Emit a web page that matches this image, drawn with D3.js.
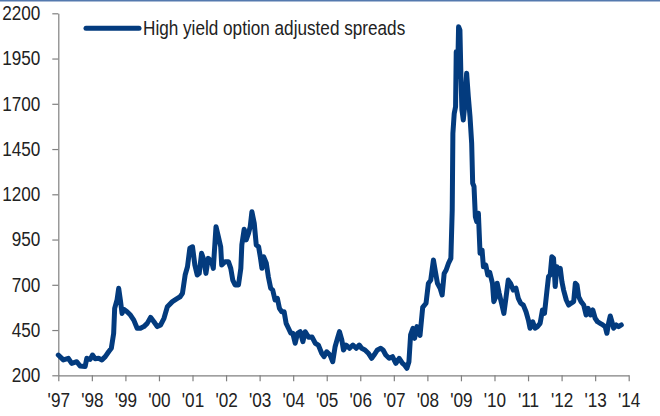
<!DOCTYPE html>
<html>
<head>
<meta charset="utf-8">
<script src="https://cdn.jsdelivr.net/npm/d3@7"></script>
<style>
  body { margin: 0; background: #fff; }
  svg { display: block; }
  text { font-family: "Liberation Sans", Arial, sans-serif; fill: #222; }
</style>
</head>
<body>
<svg id="svg"></svg>
<script>
const svg = d3.select("#svg")

// Data (decimal year, spread in bp)
const years = [
  1997.00, 1997.15, 1997.30, 1997.40, 1997.55, 1997.65, 1997.80, 1997.85, 1997.95,
  1998.02, 1998.10, 1998.20, 1998.30, 1998.40, 1998.50, 1998.58, 1998.65, 1998.68, 1998.75, 1998.80, 1998.85, 1998.90, 1998.95,
  1999.05, 1999.15, 1999.25, 1999.35, 1999.45, 1999.55, 1999.65, 1999.75, 1999.85, 1999.95,
  2000.05, 2000.15, 2000.25, 2000.40, 2000.55, 2000.63, 2000.70, 2000.73, 2000.78, 2000.85, 2000.92,
  2001.00, 2001.07, 2001.14, 2001.20, 2001.27, 2001.34, 2001.40, 2001.47, 2001.57, 2001.62, 2001.70, 2001.77, 2001.84, 2001.87, 2001.97,
  2002.07, 2002.14, 2002.20, 2002.27, 2002.37, 2002.44, 2002.47, 2002.54, 2002.60, 2002.67, 2002.72, 2002.77, 2002.84, 2002.90, 2002.97,
  2003.02, 2003.07, 2003.12, 2003.20, 2003.26, 2003.33, 2003.39, 2003.46, 2003.53, 2003.59, 2003.66, 2003.73, 2003.79, 2003.86, 2003.93, 2003.99,
  2004.06, 2004.13, 2004.21, 2004.29, 2004.36, 2004.46, 2004.56, 2004.66, 2004.75, 2004.85, 2004.92,
  2005.00, 2005.10, 2005.18, 2005.25, 2005.32, 2005.38, 2005.45, 2005.50, 2005.58, 2005.68, 2005.78, 2005.88, 2005.97,
  2006.04, 2006.14, 2006.24, 2006.34, 2006.41, 2006.51, 2006.61, 2006.68, 2006.76, 2006.86, 2006.96,
  2007.06, 2007.16, 2007.26, 2007.32, 2007.39, 2007.45, 2007.50, 2007.57, 2007.62, 2007.69, 2007.78, 2007.86, 2007.96,
  2008.03, 2008.10, 2008.18, 2008.23, 2008.30, 2008.38, 2008.44, 2008.50, 2008.56, 2008.63, 2008.70, 2008.74, 2008.76, 2008.80, 2008.84, 2008.86, 2008.90, 2008.93, 2008.97,
  2009.00, 2009.03, 2009.07, 2009.12, 2009.17, 2009.22, 2009.27, 2009.32, 2009.35, 2009.39, 2009.43, 2009.47, 2009.52, 2009.57, 2009.63, 2009.67, 2009.74, 2009.80, 2009.86, 2009.94, 2009.98,
  2010.04, 2010.08, 2010.14, 2010.21, 2010.28, 2010.34, 2010.41, 2010.48, 2010.56, 2010.64, 2010.71, 2010.78, 2010.86, 2010.94,
  2011.01, 2011.06, 2011.14, 2011.21, 2011.28, 2011.36, 2011.43, 2011.49, 2011.56, 2011.61, 2011.66, 2011.71, 2011.76, 2011.81, 2011.86, 2011.91, 2011.96,
  2012.01, 2012.06, 2012.14, 2012.21, 2012.28, 2012.36, 2012.41, 2012.46, 2012.51, 2012.58, 2012.66, 2012.73, 2012.79, 2012.86, 2012.93,
  2013.00, 2013.07, 2013.15, 2013.23, 2013.30, 2013.35, 2013.40, 2013.45, 2013.50, 2013.55, 2013.63, 2013.70, 2013.78
]
const spreads = [
  312, 285, 294, 266, 275, 251, 248, 294, 288,
  312, 292, 294, 285, 303, 330, 349, 432, 570, 616, 681, 616, 542, 565,
  551, 533, 505, 460, 460, 469, 487, 520, 496, 469,
  478, 515, 579, 607, 625, 634, 653, 690, 754, 800, 902,
  910, 809, 754, 763, 874, 837, 763, 846, 828, 791, 1021, 966, 910, 809, 828,
  828, 791, 726, 699, 699, 791, 920, 1007, 948, 985, 1021, 1104, 1040, 920, 910,
  855, 791, 855, 819, 745, 681, 671, 616, 625, 570, 551, 551, 487, 460, 432, 432,
  377, 432, 441, 386, 441, 410, 412, 377, 367, 322, 303,
  330, 312, 275, 358, 404, 441, 395, 340, 367, 349, 367, 349, 367,
  349, 340, 322, 294, 312, 340, 349, 340, 312, 294, 303,
  266, 294, 266, 257, 239, 275, 423, 460, 404, 469, 420, 575, 598,
  708, 726, 837, 782, 708, 681, 644, 763, 782, 819, 846, 1111, 1537, 1647, 1684, 1988, 1850, 2126, 2107,
  1850, 1666, 1611, 1703, 1869, 1740, 1630, 1482, 1261, 1243, 1076, 1050, 1095, 874, 892, 800, 809, 754, 768, 708, 607,
  634, 708, 653, 598, 542, 625, 726, 708, 671, 681, 625, 598, 588, 551,
  505, 460, 496, 460, 469, 487, 561, 542, 662, 745, 754, 855, 846, 690, 800, 763, 791,
  717, 671, 616, 588, 598, 607, 708, 699, 634, 607, 588, 533, 570, 533, 561,
  515, 496, 487, 478, 469, 432, 487, 528, 496, 460, 478, 469, 478
]
const yearTicks = d3.range(1997, 2015)
const spreadTicks = [200, 450, 700, 950, 1200, 1450, 1700, 1950, 2200]
const seriesName = "High yield option adjusted spreads"

const width = 660
const height = 416
const margin = { top: 13.3, right: 31.3, bottom: 40.7, left: 58.3 }
const narrow = 0.88   // squeeze text to mimic a narrow face
const fontSize = "19.5px"

svg.attr("width", width).attr("height", height)

// thin blue rule along the top
svg.append("rect")
    .attr("x", 0).attr("y", 0)
    .attr("width", width).attr("height", 1.5)
    .attr("fill", "#5479ae")

const x = d3.scaleLinear()
    .domain([1997, 2014])
    .range([margin.left, width - margin.right])

const y = d3.scaleLinear()
    .domain([200, 2200])
    .range([height - margin.bottom, margin.top])

const xAxis = svg.append("g")
    .attr("transform", `translate(0,${height - margin.bottom})`)
    .call(d3.axisBottom(x)
        .tickValues(yearTicks)
        .tickFormat(d => "'" + String(d).slice(2))
        .tickSize(6)
        .tickSizeOuter(0)
        .tickPadding(12))

const yAxis = svg.append("g")
    .attr("transform", `translate(${margin.left},0)`)
    .call(d3.axisLeft(y)
        .tickValues(spreadTicks)
        .tickFormat(d3.format("d"))
        .tickSize(6)
        .tickSizeOuter(0)
        .tickPadding(12))

svg.selectAll(".domain, .tick line")
    .attr("stroke", "#808080")
    .attr("stroke-width", 1.2)

svg.selectAll(".tick text")
    .attr("fill", "#222")
    .style("font-size", fontSize)
    .style("font-family", "'Liberation Sans', Arial, sans-serif")
    .attr("transform", `scale(${narrow},1)`)

// y labels sit at x=-18; undo the squeeze on their anchor
yAxis.selectAll(".tick text").attr("x", -18 / narrow)

const points = years.map((yr, i) => [yr, spreads[i]])

const line = d3.line()
    .x(d => x(d[0]))
    .y(d => y(d[1]))

svg.append("path")
    .datum(points)
    .attr("fill", "none")
    .attr("stroke", "#033b7e")
    .attr("stroke-width", 5)
    .attr("stroke-linejoin", "round")
    .attr("stroke-linecap", "round")
    .attr("d", line)

// legend
const legend = svg.append("g")
legend.append("line")
    .attr("x1", 86).attr("x2", 139)
    .attr("y1", 28.3).attr("y2", 28.3)
    .attr("stroke", "#033b7e")
    .attr("stroke-width", 5)
    .attr("stroke-linecap", "round")
legend.append("text")
    .attr("transform", `translate(143,35) scale(${narrow},1)`)
    .style("font-size", fontSize)
    .text(seriesName)
</script>
</body>
</html>
